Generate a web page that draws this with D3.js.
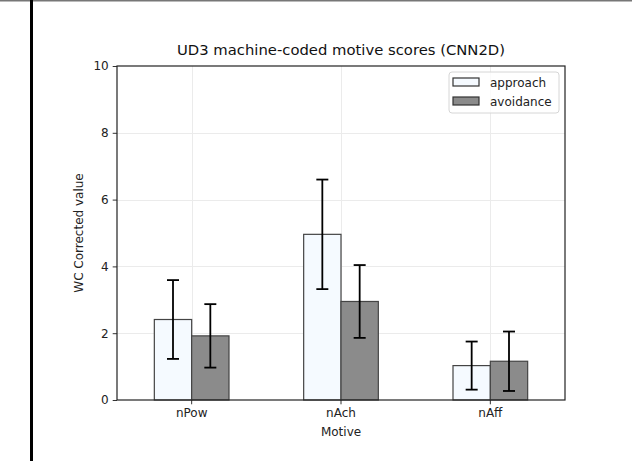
<!DOCTYPE html>
<html>
<head>
<meta charset="utf-8">
<script src="https://cdn.jsdelivr.net/npm/d3@7"></script>
<style>
  body { margin: 0; background: #fff; }
  svg { display: block; font-family: "DejaVu Sans", sans-serif; }
</style>
</head>
<body>
<svg id="chart" width="632" height="461"></svg>
<script>
// ---------------- data ----------------
const motives = ["nPow", "nAch", "nAff"];
const seriesNames = ["approach", "avoidance"];
const approachVals = [2.41, 4.96, 1.03];
const approachErr = [1.18, 1.64, 0.72];
const avoidanceVals = [1.92, 2.95, 1.16];
const avoidanceErr = [0.95, 1.09, 0.89];
const yTicks = [0, 2, 4, 6, 8, 10];

const fills = { approach: "#f5faff", avoidance: "#8b8b8b" };

// ---------------- layout ----------------
const svg = d3.select("#chart");
const plot = { left: 117, right: 565, top: 66, bottom: 400 };

// page frame bits (top rule, left black rule)
svg.append("line").attr("x1", 0).attr("x2", 632).attr("y1", 0.5).attr("y2", 0.5)
  .attr("stroke", "#777").attr("stroke-width", 2);
svg.append("line").attr("x1", 31.5).attr("x2", 31.5).attr("y1", 0).attr("y2", 461)
  .attr("stroke", "#000").attr("stroke-width", 3);

const x = d3.scaleBand().domain(motives).range([plot.left, plot.right]).padding(0);
const y = d3.scaleLinear().domain([0, 10]).range([plot.bottom, plot.top]);
const barW = x.step() * 0.25;
const cx = d => x(d) + x.bandwidth() / 2;

// grid
const grid = svg.append("g").attr("stroke", "#ebebeb").attr("stroke-width", 1);
grid.selectAll(".gy").data(yTicks.slice(1, -1)).enter().append("line")
  .attr("x1", plot.left).attr("x2", plot.right)
  .attr("y1", d => Math.round(y(d)) + 0.5).attr("y2", d => Math.round(y(d)) + 0.5);
grid.selectAll(".gx").data(motives).enter().append("line")
  .attr("x1", d => Math.round(cx(d)) + 0.5).attr("x2", d => Math.round(cx(d)) + 0.5)
  .attr("y1", plot.top).attr("y2", plot.bottom);

// bars
const rows = [];
motives.forEach((m, i) => {
  rows.push({ m, s: "approach", v: approachVals[i], e: approachErr[i], off: -barW / 2 });
  rows.push({ m, s: "avoidance", v: avoidanceVals[i], e: avoidanceErr[i], off: barW / 2 });
});

svg.append("g").selectAll("rect").data(rows).enter().append("rect")
  .attr("x", d => cx(d.m) + d.off - barW / 2)
  .attr("y", d => y(d.v))
  .attr("width", barW)
  .attr("height", d => y(0) - y(d.v))
  .attr("fill", d => fills[d.s])
  .attr("stroke", "#444")
  .attr("stroke-width", 1.2);

// error bars
const eb = svg.append("g").attr("stroke", "#000").attr("stroke-width", 1.8);
rows.forEach(d => {
  const xc = cx(d.m) + d.off;
  eb.append("line").attr("x1", xc).attr("x2", xc).attr("y1", y(d.v - d.e)).attr("y2", y(d.v + d.e));
  [d.v - d.e, d.v + d.e].forEach(t => {
    eb.append("line").attr("x1", xc - 6).attr("x2", xc + 6).attr("y1", y(t)).attr("y2", y(t));
  });
});

// axes
const yAxis = svg.append("g").attr("transform", `translate(${plot.left},0)`)
  .call(d3.axisLeft(y).tickValues(yTicks).tickSize(4.3).tickPadding(4));
const xAxis = svg.append("g").attr("transform", `translate(0,${plot.bottom})`)
  .call(d3.axisBottom(x).tickSize(4.3).tickPadding(4));
[yAxis, xAxis].forEach(a => {
  a.select(".domain").remove();
  a.selectAll("text").attr("font-size", 12).attr("fill", "#222").attr("font-family", "DejaVu Sans, sans-serif");
  a.selectAll("line").attr("stroke", "#333");
});

// spines
svg.append("rect").attr("x", plot.left).attr("y", plot.top)
  .attr("width", plot.right - plot.left).attr("height", plot.bottom - plot.top)
  .attr("fill", "none").attr("stroke", "#222").attr("stroke-width", 1.2);

// labels
svg.append("text").attr("x", (plot.left + plot.right) / 2).attr("y", 55)
  .attr("text-anchor", "middle").attr("font-size", 14.8).attr("fill", "#111")
  .text("UD3 machine-coded motive scores (CNN2D)");
svg.append("text").attr("x", (plot.left + plot.right) / 2).attr("y", 436)
  .attr("text-anchor", "middle").attr("font-size", 12).attr("fill", "#222")
  .text("Motive");
svg.append("text").attr("transform", `translate(83,${(plot.top + plot.bottom) / 2}) rotate(-90)`)
  .attr("text-anchor", "middle").attr("font-size", 12).attr("fill", "#222")
  .text("WC Corrected value");

// legend
const lg = svg.append("g").attr("transform", "translate(449,72)");
lg.append("rect").attr("width", 110).attr("height", 41).attr("rx", 3)
  .attr("fill", "rgba(255,255,255,0.8)").attr("stroke", "#d6d6d6");
seriesNames.forEach((s, i) => {
  const g = lg.append("g").attr("transform", `translate(4,${6 + i * 19})`);
  g.append("rect").attr("width", 26).attr("height", 8)
    .attr("fill", fills[s]).attr("stroke", "#333").attr("stroke-width", 1.2);
  g.append("text").attr("x", 37).attr("y", 8.5).attr("font-size", 12).attr("fill", "#222").text(s);
});
</script>
</body>
</html>
